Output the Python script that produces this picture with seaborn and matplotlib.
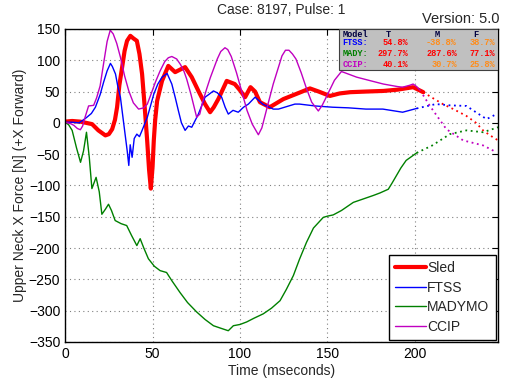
import pandas as pd
import numpy as np
import seaborn as sns
import matplotlib.pyplot as plt
from matplotlib.patches import Rectangle
from matplotlib.lines import Line2D

# values (time in ms, force in N)
sled_t = [0, 4, 8.6, 12, 15.4, 19, 23, 25, 26.9, 28.5, 29.7, 31, 32.6, 34, 35.4, 37.3, 39, 41,
          42.5, 44, 45.5, 46.9, 48, 49, 50, 50.7, 51.5, 52.6, 55.4, 59, 62.9, 65, 68.6, 72.4,
          76.2, 80, 82.9, 85, 87.6, 92.4, 97, 100, 102.9, 106, 108.6, 111.4, 117, 124.8, 132,
          140, 145, 151.4, 157, 163, 172, 182, 190, 199, 204.8]
sled_v = [2, 3, 2, 0, -2, -12, -20, -18, -10, 5, 25, 60, 89, 115, 131, 139, 135, 131,
          110, 78, 25, -28, -75, -105, -70, -28, 5, 35, 67, 91, 81, 84, 89, 73,
          51, 30, 17, 25, 38, 67, 62, 52, 41, 57, 50, 33, 25, 38, 46,
          55, 50, 43, 47, 49, 50, 51, 53, 57, 49]
sled_ext_t = [204.8, 210, 216, 222, 229.5, 235, 239, 243, 247.6]
sled_ext_v = [49, 40, 30, 22, 11, 0, -12, -20, -28]

ftss_t = [0, 4, 8, 12, 15, 17.3, 20, 22, 24, 25.9, 27, 28.8, 30, 31.6, 33, 34.5, 35.5, 36.4,
          37.2, 38.3, 39.5, 41, 42.5, 44, 47, 50.7, 53, 55.4, 58.3, 61, 63, 64.8, 66.5, 68.6,
          70.5, 72.4, 76.2, 80, 82, 84.8, 87, 89.5, 91.5, 93.3, 96, 99, 102, 104.8, 108.6,
          113, 119, 122, 131.4, 134, 143, 153, 162, 172, 181.7, 193, 197, 201]
ftss_v = [1, 1, 0, 8, 15, 25, 45, 65, 83, 95, 90, 78, 60, 41, 10, -23, -45, -68,
          -35, -55, -25, -18, -22, -12, 9, 46, 62, 73, 79, 62, 40, 19, 0, -12,
          -5, -7, 14, 41, 45, 51, 48, 41, 25, 14, 20, 17, 25, 30, 41,
          30, 22, 22, 30, 30, 27, 25, 24, 22, 22, 17, 20, 23]
ftss_ext_t = [201, 212, 220, 229.5, 236, 241, 246.7]
ftss_ext_v = [23, 30, 28, 27, 15, 6, 14]

mady_t = [0, 2, 4, 6.5, 8.8, 10.5, 12.2, 13.8, 15.3, 17.7, 19.5, 21, 23, 24.8, 26.5, 28.6, 32,
          35.2, 38, 41, 42.9, 45, 47.6, 51, 54.3, 58, 61, 65.7, 70, 75.2, 80, 84.8, 89, 93.3,
          96.2, 100, 103.8, 108, 113.3, 118, 122.9, 126.5, 130.5, 134, 138, 142, 147.6, 150,
          153.3, 158, 164.8, 170, 176.2, 180, 184.8, 187, 189.5, 192, 195, 201]
mady_v = [1, -3, -12, -40, -63, -45, -15, -55, -105, -87, -110, -146, -138, -130, -140, -156,
          -161, -164, -180, -196, -185, -200, -217, -229, -236, -239, -252, -271, -287, -302,
          -314, -324, -328, -332, -324, -322, -318, -312, -305, -296, -284, -266, -244, -218,
          -191, -168, -151, -149, -147, -140, -127, -122, -116, -112, -106, -96, -84, -72,
          -60, -48]
mady_ext_t = [201, 210, 220, 229.5, 239, 247.6]
mady_ext_v = [-48, -36, -18, -12, -15, -7]

ccip_t = [0, 3, 5, 7, 8.7, 10, 11.5, 13.4, 16.3, 18, 20, 22, 24, 25.8, 27.5, 29.5, 31.6, 34,
          36.4, 39, 42, 45, 47, 49, 51.6, 54.3, 57, 59, 61, 63.8, 66, 68, 69.5, 72, 75.2, 77,
          78.5, 81, 83, 87, 89, 91.4, 93, 95, 98, 101, 104, 107, 110.5, 112.5, 116, 119, 122,
          124, 126, 128, 130, 132, 135, 138, 141, 144.8, 147, 150, 154, 158, 160, 166.7, 175,
          182, 190, 193, 197, 199, 201, 203]
ccip_v = [1, -1, -4, -9, -11, -5, 10, 27, 28, 40, 59, 95, 130, 148, 142, 127, 105, 75,
          51, 32, 22, 24, 30, 45, 65, 83, 98, 104, 106, 102, 93, 82, 70, 45, 9, 14,
          32, 55, 72, 102, 114, 120, 117, 106, 80, 50, 20, -2, -19, -8, 30, 62, 89,
          107, 116, 116, 110, 102, 80, 55, 33, 19, 28, 45, 68, 82, 80, 73, 67,
          62, 58, 57, 60, 62, 58, 52]
ccip_ext_t = [203, 208.6, 218, 227.6, 239, 246.7]
ccip_ext_v = [52, 27, -10, -28, -36, -47]

models = ["Sled", "FTSS", "MADYMO", "CCIP"]
colors = {"Sled": "#ff0000", "FTSS": "#0000ff", "MADYMO": "#008000", "CCIP": "#c000c0"}
widths = {"Sled": 3.0, "FTSS": 1.0, "MADYMO": 1.0, "CCIP": 1.0}

# table of errors in the corner
tbl_rows = ["FTSS:", "MADY:", "CCIP:"]
tbl_row_colors = ["#0000ff", "#008000", "#c000c0"]
tbl_vals = [["54.8%", "-38.8%", "38.7%"],
            ["297.7%", "287.6%", "77.1%"],
            ["40.1%", "30.7%", "25.8%"]]
tbl_val_colors = [["#ff0000", "#ff8c1a", "#ff8c1a"],
                  ["#ff0000", "#ff0000", "#ff0000"],
                  ["#ff0000", "#ff8c1a", "#ff8c1a"]]


def frame(t, v, name):
    return pd.DataFrame({"t": t, "v": v, "model": name})


solid = pd.concat([frame(sled_t, sled_v, "Sled"), frame(ftss_t, ftss_v, "FTSS"),
                   frame(mady_t, mady_v, "MADYMO"), frame(ccip_t, ccip_v, "CCIP")])
ext = pd.concat([frame(sled_ext_t, sled_ext_v, "Sled"), frame(ftss_ext_t, ftss_ext_v, "FTSS"),
                 frame(mady_ext_t, mady_ext_v, "MADYMO"), frame(ccip_ext_t, ccip_ext_v, "CCIP")])

sns.set_style("white")
plt.rcParams["font.family"] = ["Liberation Sans", "DejaVu Sans"]
plt.rcParams["font.size"] = 10

fig = plt.figure(figsize=(5.05, 3.86), dpi=100)
ax = fig.add_axes([0.129, 0.114, 0.857, 0.811])

for m in models:
    sns.lineplot(data=ext[ext.model == m], x="t", y="v", ax=ax, color=colors[m],
                 linestyle=(0, (1, 2)), linewidth=1.3, estimator=None, sort=False, legend=False)
for m in models:
    sns.lineplot(data=solid[solid.model == m], x="t", y="v", ax=ax, color=colors[m],
                 linewidth=widths[m], estimator=None, sort=False, legend=False)

ax.set_xlim(0, 247.5)
ax.set_ylim(-350, 150)
ax.set_xticks([0, 50, 100, 150, 200])
ax.set_yticks(np.arange(-350, 151, 50))
ax.grid(True, color="#808080", linestyle=(0, (1, 3)), linewidth=0.8)
ax.tick_params(direction="in", top=True, right=True, length=4, width=0.8, labelsize=10,
               colors="black")
for s in ax.spines.values():
    s.set_color("black")
    s.set_linewidth(1.0)
ax.set_xlabel("Time (mseconds)", fontsize=10, labelpad=2)
ax.set_ylabel("Upper Neck X Force [N] (+X Forward)", fontsize=10, labelpad=1)
ax.set_title("Case: 8197, Pulse: 1", fontsize=10, pad=11)
fig.text(0.990, 0.933, "Version: 5.0", ha="right", va="bottom", fontsize=10.5)

handles = [Line2D([], [], color=colors[m], linewidth=widths[m]) for m in models]
ax.legend(handles, models, loc="lower right", fancybox=False, edgecolor="black",
          framealpha=1, fontsize=10, handlelength=2.2, handletextpad=0.1,
          borderaxespad=0.15, labelspacing=0.4, borderpad=0.45)

# error table box
bx0, by0 = 0.633, 0.869
ax.add_patch(Rectangle((bx0, by0), 1 - bx0, 1 - by0, transform=ax.transAxes,
                       facecolor="#c0c0c0", edgecolor="#404040", linewidth=0.8, zorder=5))
mono = dict(family=["Liberation Mono", "DejaVu Sans Mono"], fontsize=6.2, fontweight="bold",
            transform=ax.transAxes, zorder=6)
col_x = [0.792, 0.905, 0.993]
ax.text(bx0 + 0.008, 0.998, "Model", color="#000040", va="top", clip_on=True, **mono)
for x, h in zip(col_x, ["T", "M", "F"]):
    ax.text(x - 0.045, 0.998, h, color="#000040", ha="center", va="top", clip_on=True, **mono)
row_y = [0.956, 0.922, 0.888]
for i, r in enumerate(tbl_rows):
    ax.text(bx0 + 0.008, row_y[i], r, color=tbl_row_colors[i], va="center", **mono)
    for j in range(3):
        ax.text(col_x[j], row_y[i], tbl_vals[i][j], color=tbl_val_colors[i][j], ha="right",
                va="center", **mono)

fig.savefig("out.png", dpi=100)
